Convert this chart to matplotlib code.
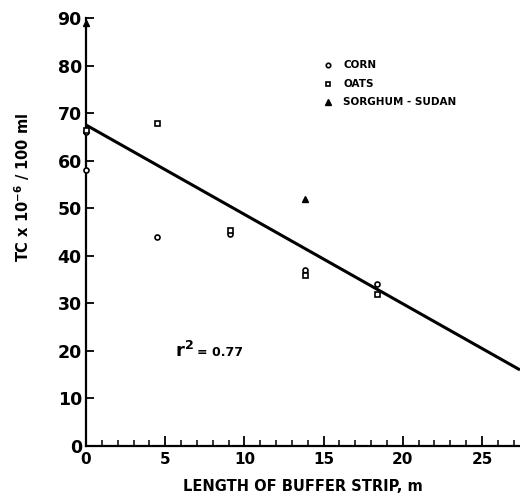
import matplotlib
matplotlib.use("Agg")
import matplotlib.pyplot as plt
from matplotlib.ticker import MultipleLocator

# Data
corn_x = [0.0, 0.0, 4.5, 9.1, 13.8, 18.4]
corn_y = [58.0, 66.0, 44.0, 44.5, 37.0, 34.0]
oats_x = [0.0, 4.5, 9.1, 13.8, 18.4]
oats_y = [66.5, 68.0, 45.5, 36.0, 32.0]
sorg_x = [0.0, 13.8]
sorg_y = [89.0, 52.0]
fit_x = [0.0, 27.4]
fit_y = [67.5, 16.0]
x_ticks = [0, 5, 10, 15, 20, 25]
x_tick_labels = ["0", "5", "10", "15", "20", "25"]
y_ticks = [0, 10, 20, 30, 40, 50, 60, 70, 80, 90]
legend_labels = ["CORN", "OATS", "SORGHUM - SUDAN"]

plt.rcParams['font.family'] = ['DejaVu Sans']
fig = plt.figure(figsize=(5.2, 5.0), dpi=100)
ax = fig.add_axes([0.1654, 0.108, 0.8346, 0.856])

ax.plot(fit_x, fit_y, color='black', lw=2.2, solid_capstyle='butt', zorder=2)
ax.plot(corn_x, corn_y, 'o', ms=3.6, mfc='white', mec='black', mew=1.2, ls='none',
        zorder=3, clip_on=False)
ax.plot(oats_x, oats_y, 's', ms=3.6, mfc='white', mec='black', mew=1.2, ls='none',
        zorder=3, clip_on=False)
ax.plot(sorg_x, sorg_y, '^', ms=5, mfc='black', mec='black', ls='none', zorder=3,
        clip_on=False)

ax.set_xlim(0, 27.4)
ax.set_ylim(0, 90)
ax.set_xticks(x_ticks)
ax.set_xticklabels(x_tick_labels)
ax.xaxis.set_minor_locator(MultipleLocator(1))
ax.set_yticks(y_ticks)

for s in ['top', 'right']:
    ax.spines[s].set_visible(False)
for s in ['left', 'bottom']:
    ax.spines[s].set_linewidth(1.6)

ax.tick_params(axis='x', which='major', direction='in', length=7, width=1.3,
               labelsize=11, pad=4)
ax.tick_params(axis='x', which='minor', direction='in', length=4, width=1.1)
ax.tick_params(axis='y', which='major', direction='in', length=6, width=1.3,
               labelsize=12.5, pad=3)
for lab in ax.get_xticklabels() + ax.get_yticklabels():
    lab.set_fontweight('bold')

ax.set_xlabel("LENGTH OF BUFFER STRIP, m", fontsize=10.5, fontweight='bold', labelpad=9)
ax.set_ylabel("TC x 10$^{\\mathbf{-6}}$ / 100 ml", fontsize=10.5, fontweight='bold')
ax.yaxis.set_label_coords(-0.125, 0.605)

# legend (manual, drawn in axes coordinates)
lx, tx = (328 - 86) / 434.0, (343 - 86) / 434.0
ly = [(446 - 65) / 428.0, (446 - 84) / 428.0, (446 - 102) / 428.0]
ax.plot([lx], [ly[0]], 'o', ms=3.2, mfc='white', mec='black', mew=1.2, transform=ax.transAxes)
ax.plot([lx], [ly[1]], 's', ms=3.2, mfc='white', mec='black', mew=1.2, transform=ax.transAxes)
ax.plot([lx], [ly[2]], '^', ms=4.5, mfc='black', mec='black', transform=ax.transAxes)
for y, t in zip(ly, legend_labels):
    ax.text(tx, y, t, transform=ax.transAxes, fontsize=7.5, fontweight='bold',
            va='center', ha='left')

ax.text(5.6, 20, "r$^{\\mathbf{2}}$", fontsize=13, fontweight='bold', va='center', ha='left')
ax.text(7.0, 19.6, "= 0.77", fontsize=9, fontweight='bold', va='center', ha='left')

fig.savefig("out.png", dpi=100)
